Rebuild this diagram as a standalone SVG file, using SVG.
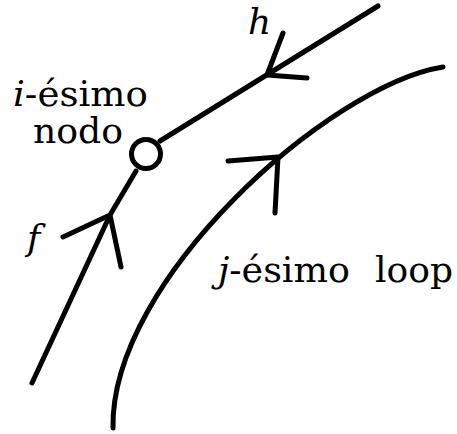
<svg xmlns="http://www.w3.org/2000/svg" width="457" height="434" viewBox="0 0 457 434">
<style>
.ln{fill:none;stroke:#000;stroke-width:5;stroke-linecap:round;stroke-linejoin:round}
.t{font-family:"DejaVu Serif","Liberation Serif",serif;font-size:36px;fill:#000}
.it{font-style:italic}
</style>
<rect width="457" height="434" fill="#fff"/>
<g id="connectors">
<path class="ln" d="M378,6 L160,141"/>
<path class="ln" d="M283,33 L267,75 L307,78"/>
<path class="ln" d="M32,383 L110,215 L136,171"/>
<path class="ln" d="M63,237 L110,215 L121,267"/>
<path class="ln" d="M443,67 C330,85 110,280 113,428"/>
<path class="ln" d="M228,161 L278,157 L275,213"/>
</g>
<g id="node-i">
<circle class="ln" cx="146" cy="154" r="14.5"/>
<text class="t" x="13" y="106" textLength="135" lengthAdjust="spacingAndGlyphs"><tspan class="it">i</tspan>-ésimo</text>
<text class="t" x="33" y="143" textLength="90" lengthAdjust="spacingAndGlyphs">nodo</text>
</g>
<g id="label-h"><text class="t it" x="248" y="34">h</text></g>
<g id="label-f"><text class="t it" x="27" y="250">f</text></g>
<g id="label-loop">
<text class="t" x="218" y="282" textLength="132" lengthAdjust="spacingAndGlyphs"><tspan class="it">j</tspan>-ésimo</text>
<text class="t" x="375" y="282" textLength="78" lengthAdjust="spacingAndGlyphs">loop</text>
</g>
</svg>
